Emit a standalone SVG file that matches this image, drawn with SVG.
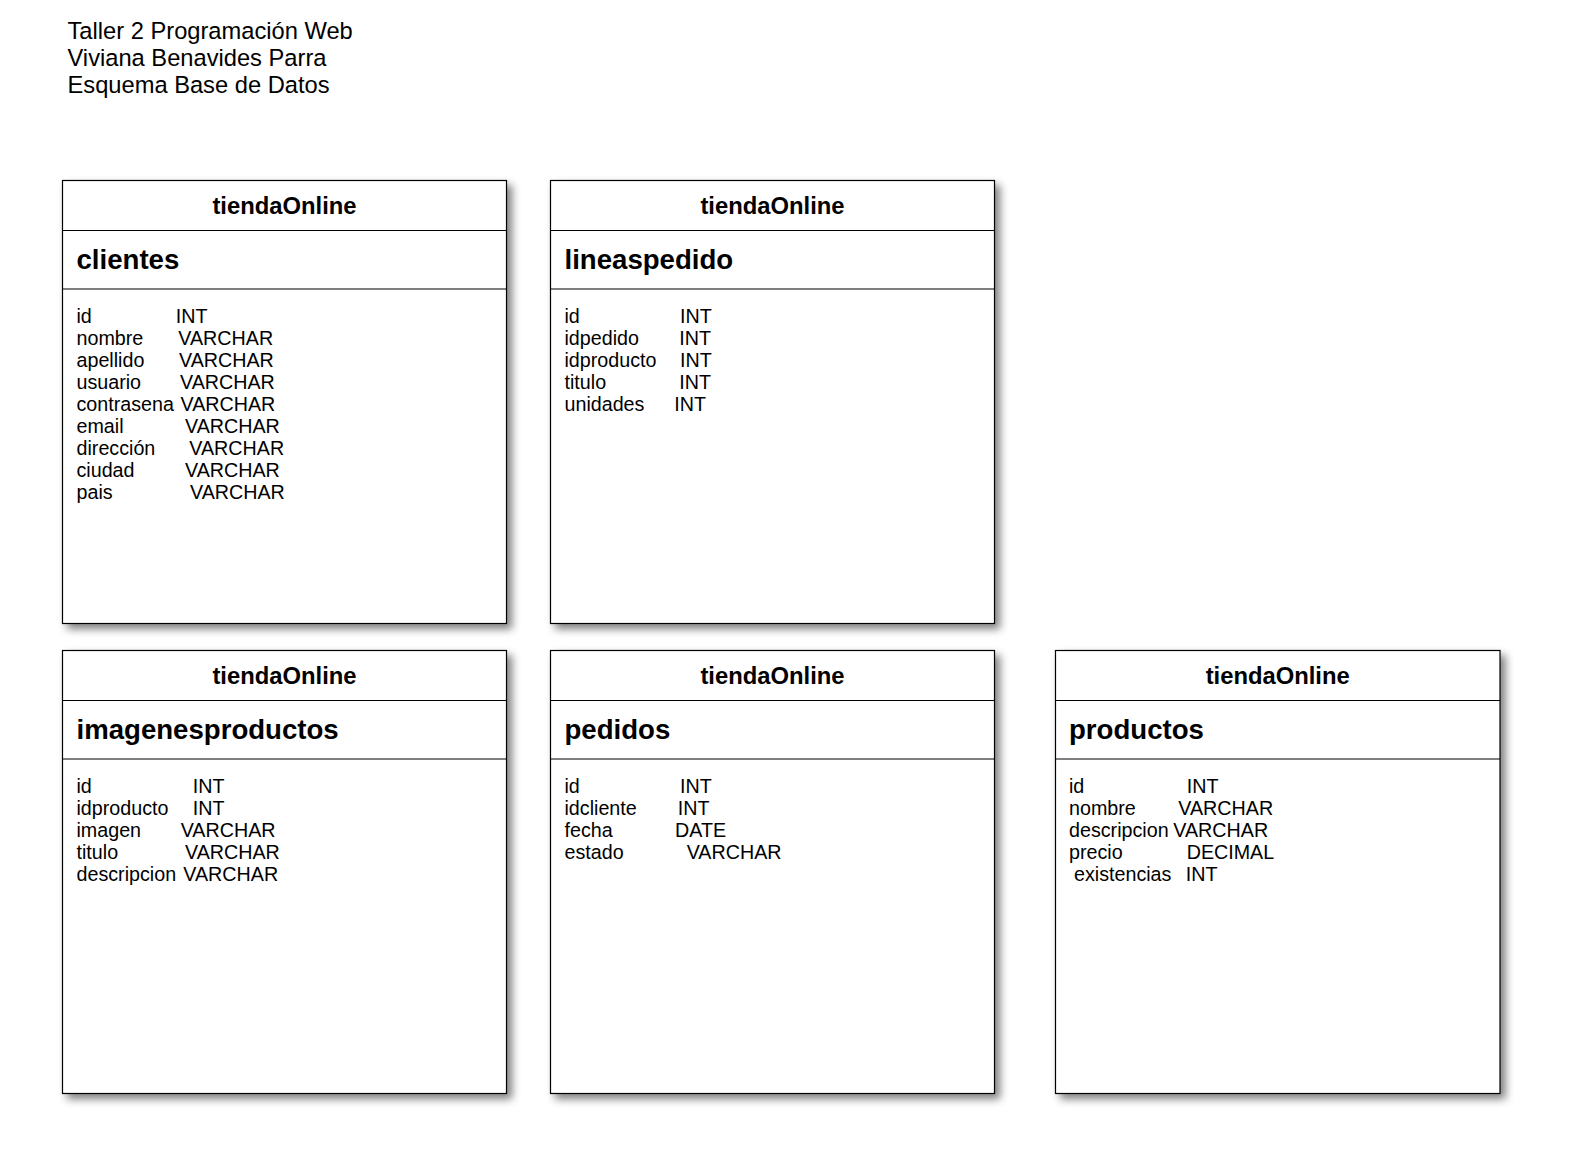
<svg xmlns="http://www.w3.org/2000/svg" width="1590" height="1160" viewBox="0 0 1590 1160">
<style>
text{font-family:"Liberation Sans",Arial,Helvetica,sans-serif;fill:#000}
.box{fill:#fff;stroke:#000;stroke-width:1.2;filter:url(#sh)}
.div{stroke:#000;stroke-width:1.2;fill:none}
.schema{font-size:23.8px;font-weight:bold;text-anchor:middle}
.tname{font-size:27.6px;font-weight:bold}
.attr{font-size:19.7px}
.title{font-size:23.7px}
</style>
<defs>
<filter id="sh" x="-5%" y="-5%" width="115%" height="115%">
<feGaussianBlur in="SourceAlpha" stdDeviation="4"/>
<feOffset dx="5" dy="5" result="b"/>
<feComponentTransfer><feFuncA type="linear" slope="0.5"/></feComponentTransfer>
<feMerge><feMergeNode/><feMergeNode in="SourceGraphic"/></feMerge>
</filter>
</defs>
<rect width="1590" height="1160" fill="#fff"/>
<g id="title">
<text class="title" x="67.5" y="39.3">Taller 2 Programación Web</text>
<text class="title" x="67.5" y="66">Viviana Benavides Parra</text>
<text class="title" x="67.5" y="92.7">Esquema Base de Datos</text>
</g>
<g id="connectors"></g>
<g id="clientes">
<rect class="box" x="62.5" y="180.5" width="444" height="443"/>
<path class="div" d="M62.5 230.5H506.5M62.5 289H506.5"/>
<text class="schema" x="284.5" y="214">tiendaOnline</text>
<text class="tname" x="76.5" y="268.7">clientes</text>
<text class="attr">
<tspan x="76.5" y="323.3">id</tspan><tspan x="175.7">INT</tspan>
<tspan x="76.5" y="345.3">nombre</tspan><tspan x="178.3">VARCHAR</tspan>
<tspan x="76.5" y="367.3">apellido</tspan><tspan x="179">VARCHAR</tspan>
<tspan x="76.5" y="389.3">usuario</tspan><tspan x="180">VARCHAR</tspan>
<tspan x="76.5" y="411.3">contrasena</tspan><tspan x="180.5">VARCHAR</tspan>
<tspan x="76.5" y="433.3">email</tspan><tspan x="185">VARCHAR</tspan>
<tspan x="76.5" y="455.3">dirección</tspan><tspan x="189.3">VARCHAR</tspan>
<tspan x="76.5" y="477.3">ciudad</tspan><tspan x="185">VARCHAR</tspan>
<tspan x="76.5" y="499.3">pais</tspan><tspan x="190">VARCHAR</tspan>
</text>
</g>
<g id="lineaspedido">
<rect class="box" x="550.5" y="180.5" width="444" height="443"/>
<path class="div" d="M550.5 230.5H994.5M550.5 289H994.5"/>
<text class="schema" x="772.5" y="214">tiendaOnline</text>
<text class="tname" x="564.5" y="268.7">lineaspedido</text>
<text class="attr">
<tspan x="564.5" y="323.3">id</tspan><tspan x="680">INT</tspan>
<tspan x="564.5" y="345.3">idpedido</tspan><tspan x="679.3">INT</tspan>
<tspan x="564.5" y="367.3">idproducto</tspan><tspan x="680">INT</tspan>
<tspan x="564.5" y="389.3">titulo</tspan><tspan x="679.3">INT</tspan>
<tspan x="564.5" y="411.3">unidades</tspan><tspan x="674.3">INT</tspan>
</text>
</g>
<g id="imagenesproductos">
<rect class="box" x="62.5" y="650.5" width="444" height="443"/>
<path class="div" d="M62.5 700.5H506.5M62.5 759H506.5"/>
<text class="schema" x="284.5" y="684">tiendaOnline</text>
<text class="tname" x="76.5" y="738.7">imagenesproductos</text>
<text class="attr">
<tspan x="76.5" y="793.3">id</tspan><tspan x="192.7">INT</tspan>
<tspan x="76.5" y="815.3">idproducto</tspan><tspan x="192.7">INT</tspan>
<tspan x="76.5" y="837.3">imagen</tspan><tspan x="180.7">VARCHAR</tspan>
<tspan x="76.5" y="859.3">titulo</tspan><tspan x="185">VARCHAR</tspan>
<tspan x="76.5" y="881.3">descripcion</tspan><tspan x="183.3">VARCHAR</tspan>
</text>
</g>
<g id="pedidos">
<rect class="box" x="550.5" y="650.5" width="444" height="443"/>
<path class="div" d="M550.5 700.5H994.5M550.5 759H994.5"/>
<text class="schema" x="772.5" y="684">tiendaOnline</text>
<text class="tname" x="564.5" y="738.7">pedidos</text>
<text class="attr">
<tspan x="564.5" y="793.3">id</tspan><tspan x="680">INT</tspan>
<tspan x="564.5" y="815.3">idcliente</tspan><tspan x="677.7">INT</tspan>
<tspan x="564.5" y="837.3">fecha</tspan><tspan x="675">DATE</tspan>
<tspan x="564.5" y="859.3">estado</tspan><tspan x="686.7">VARCHAR</tspan>
</text>
</g>
<g id="productos">
<rect class="box" x="1055.5" y="650.5" width="444.5" height="443"/>
<path class="div" d="M1055.5 700.5H1500M1055.5 759H1500"/>
<text class="schema" x="1277.7" y="684">tiendaOnline</text>
<text class="tname" x="1069" y="738.7">productos</text>
<text class="attr">
<tspan x="1069" y="793.3">id</tspan><tspan x="1186.7">INT</tspan>
<tspan x="1069" y="815.3">nombre</tspan><tspan x="1178.3">VARCHAR</tspan>
<tspan x="1069" y="837.3">descripcion</tspan><tspan x="1173.3">VARCHAR</tspan>
<tspan x="1069" y="859.3">precio</tspan><tspan x="1186.7">DECIMAL</tspan>
<tspan x="1074" y="881.3">existencias</tspan><tspan x="1185.7">INT</tspan>
</text>
</g>
</svg>
